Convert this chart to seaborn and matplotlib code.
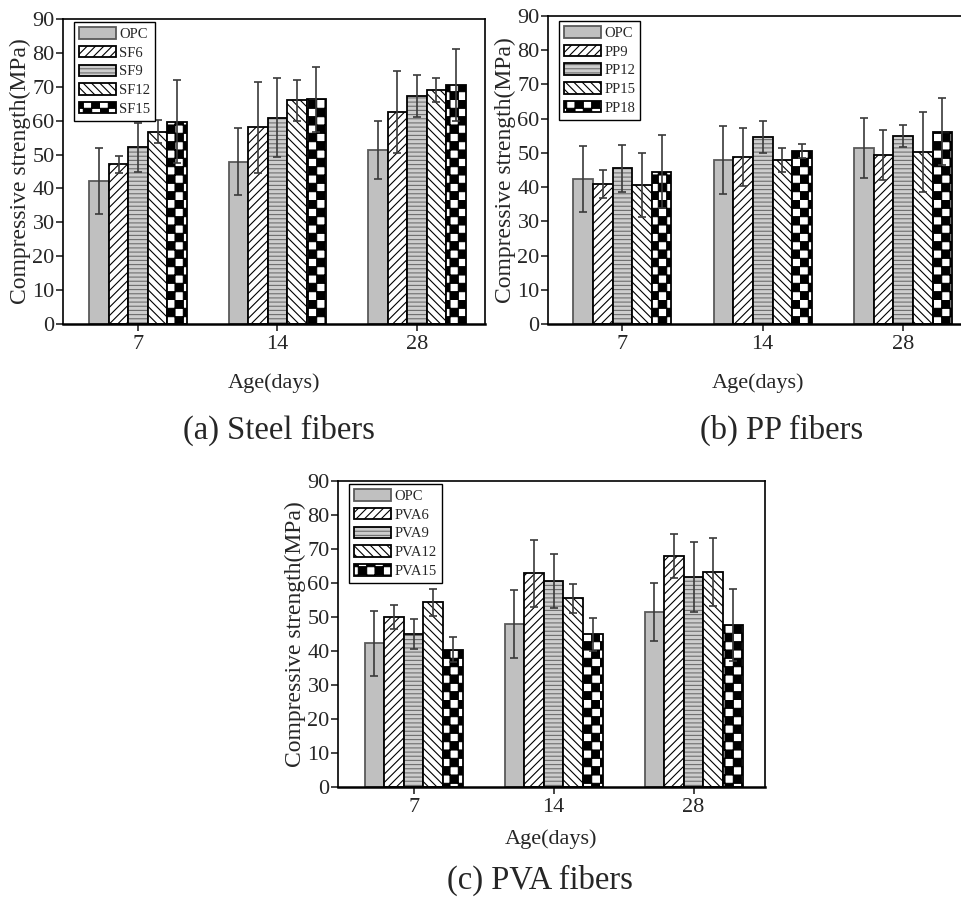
import warnings
import numpy as np
import pandas as pd
import matplotlib
matplotlib.use("Agg")
import matplotlib.pyplot as plt
import seaborn as sns
from matplotlib import hatch as mhatch
from matplotlib.path import Path

warnings.filterwarnings("ignore")

# data (mean, error half-width) for 7/14/28 days
ages = ["7", "14", "28"]

steel_labels = ["OPC", "SF6", "SF9", "SF12", "SF15"]
steel_mean = [[42.3, 47.9, 51.4], [47.1, 58.0, 62.6], [52.1, 60.9, 67.2],
              [56.7, 66.0, 69.0], [59.7, 66.3, 70.5]]
steel_err = [[9.7, 9.9, 8.6], [2.6, 13.3, 12.2], [7.2, 11.6, 6.2],
             [3.4, 6.0, 3.6], [12.2, 9.5, 10.6]]

pp_labels = ["OPC", "PP9", "PP12", "PP15", "PP18"]
pp_mean = [[42.3, 47.9, 51.4], [40.9, 48.9, 49.3], [45.5, 54.6, 54.9],
           [40.6, 47.9, 50.3], [44.5, 50.6, 56.2]]
pp_err = [[9.6, 9.9, 8.7], [4.2, 8.5, 7.3], [6.8, 4.6, 3.2],
          [9.3, 3.6, 11.7], [10.7, 2.0, 9.7]]

pva_labels = ["OPC", "PVA6", "PVA9", "PVA12", "PVA15"]
pva_mean = [[42.3, 47.9, 51.5], [50.1, 62.8, 67.9], [45.1, 60.6, 61.8],
            [54.3, 55.5, 63.2], [40.4, 44.9, 47.7]]
pva_err = [[9.6, 9.9, 8.6], [3.5, 9.8, 6.4], [4.4, 8.0, 10.4],
           [3.9, 4.2, 10.1], [3.7, 4.8, 10.6]]


# checkerboard hatch ('#') - matplotlib has none built in
class CheckerHatch(mhatch.HatchPatternBase):
    def __init__(self, hatch, density):
        n = int(hatch.count("#") * density * 2)
        self.n = n + n % 2
        self.num_vertices = (self.n * self.n // 2) * 5

    def set_vertices_and_codes(self, vertices, codes):
        n = self.n
        s = 1.0 / n
        k = 0
        for i in range(n):
            for j in range(n):
                if (i + j) % 2 == 0:
                    x0, y0 = i * s, j * s
                    vertices[k:k + 5] = [(x0, y0), (x0 + s, y0), (x0 + s, y0 + s),
                                         (x0, y0 + s), (x0, y0)]
                    codes[k] = Path.MOVETO
                    codes[k + 1:k + 4] = Path.LINETO
                    codes[k + 4] = Path.CLOSEPOLY
                    k += 5


mhatch._hatch_types.append(CheckerHatch)

sns.set_style("ticks")
plt.rcParams["font.family"] = ["Liberation Serif", "DejaVu Serif"]
plt.rcParams["hatch.linewidth"] = 0.8

# styles per series position
faces = ["#c0c0c0", "white", "#cdcdcd", "white", "white"]
hatches = [None, "////", "----", "\\\\\\\\", "#"]
edges = ["#5a5a5a", "black", "black", "black", "black"]
hatch_cols = [None, "black", "#6e6e6e", "black", "black"]


def panel(ax, labels, means, errs, xlim, leg_anchor, xpad):
    rows = []
    for lab, m in zip(labels, means):
        for a, v in zip(ages, m):
            rows.append({"age": a, "mix": lab, "strength": v})
    df = pd.DataFrame(rows)
    sns.barplot(data=df, x="age", y="strength", hue="mix", order=ages,
                hue_order=labels, errorbar=None, width=0.7, ax=ax,
                palette=["white"] * 5, legend=False)
    bars = list(ax.containers)
    handles = []
    for i, cont in enumerate(bars):
        for p in cont.patches:
            p.set_facecolor(faces[i])
            p.set_edgecolor(edges[i])
            p.set_linewidth(1.3)
            if hatches[i]:
                p.set_hatch(hatches[i])
                p._hatch_color = matplotlib.colors.to_rgba(hatch_cols[i])
        xs = [p.get_x() + p.get_width() / 2 for p in cont.patches]
        ys = [p.get_height() for p in cont.patches]
        ax.errorbar(xs, ys, yerr=errs[i], fmt="none", ecolor="#3a3a3a",
                    elinewidth=1.2, capsize=3, capthick=1.2, zorder=5)
        handles.append(cont.patches[0])
    leg = ax.legend(handles=handles, labels=labels, loc="upper left",
                    bbox_to_anchor=leg_anchor, borderaxespad=0, fontsize=10.5,
                    handlelength=2.5, handleheight=0.85, handletextpad=0.25,
                    labelspacing=0.33, borderpad=0.35, fancybox=False,
                    framealpha=1, edgecolor="black")
    leg.get_frame().set_linewidth(1.0)
    ax.set_ylim(0, 90)
    ax.set_yticks(range(0, 91, 10))
    ax.set_xlim(*xlim)
    ax.set_ylabel("Compressive strength(MPa)", fontsize=17, labelpad=1)
    ax.set_xlabel("Age(days)", fontsize=16, labelpad=xpad)
    ax.tick_params(axis="both", direction="out", length=5, width=1.2,
                   labelsize=16, pad=1)
    ax.tick_params(axis="x", pad=3)
    for s in ax.spines.values():
        s.set_visible(True)
        s.set_color("black")
        s.set_linewidth(1.2)
    ax.spines["bottom"].set_linewidth(1.8)


fig = plt.figure(figsize=(9.61, 9.02), dpi=100)
W, H = 961, 902


def add_ax(l, t, r, b):
    return fig.add_axes([l / W, 1 - b / H, (r - l) / W, (b - t) / H])


ax1 = add_ax(63, 19, 485, 324)
ax2 = add_ax(548, 16, 969, 324)
ax3 = add_ax(338, 481, 765, 787)

panel(ax1, steel_labels, steel_mean, steel_err, (-0.54, 2.49), (0.026, 0.99), 14)
panel(ax2, pp_labels, pp_mean, pp_err, (-0.53, 2.47), (0.026, 0.984), 14)
panel(ax3, pva_labels, pva_mean, pva_err, (-0.54, 2.51), (0.026, 0.99), 9)

fig.text(279 / W, 1 - 430 / H, "(a) Steel fibers", fontsize=23.5, ha="center", va="center")
fig.text(782 / W, 1 - 430 / H, "(b) PP fibers", fontsize=23.5, ha="center", va="center")
fig.text(540 / W, 1 - 880 / H, "(c) PVA fibers", fontsize=23.5, ha="center", va="center")

fig.savefig("out.png", dpi=100)
